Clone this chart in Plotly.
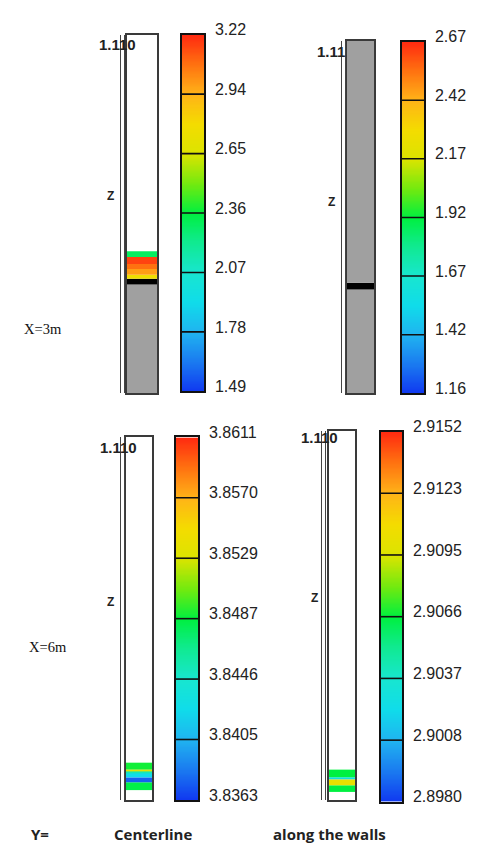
import numpy as np
import plotly.graph_objects as go

# ---------------- data ----------------
# colour-bar tick labels (top -> bottom as printed)
tl_ticks = ["3.22", "2.94", "2.65", "2.36", "2.07", "1.78", "1.49"]
tr_ticks = ["2.67", "2.42", "2.17", "1.92", "1.67", "1.42", "1.16"]
bl_ticks = ["3.8611", "3.8570", "3.8529", "3.8487", "3.8446", "3.8405", "3.8363"]
br_ticks = ["2.9152", "2.9123", "2.9095", "2.9066", "2.9037", "2.9008", "2.8980"]

z_max = 1.11  # column height

# column profiles: segment bottoms, tops (z) and value ("below" = grey, "contour" = black)
tl_bottom = [0.0, 0.337, 0.355, 0.367, 0.385, 0.400, 0.4216]
tl_top = [0.337, 0.355, 0.367, 0.385, 0.400, 0.4216, 0.440]
tl_value = ["below", "contour", 2.75, 2.98, 3.08, 3.17, 2.30]

tr_bottom = [0.0, 0.327, 0.348]
tr_top = [0.327, 0.348, 1.11]
tr_value = ["below", "contour", "below"]

bl_bottom = [0.030, 0.054, 0.069, 0.084, 0.090, 0.093]
bl_top = [0.054, 0.069, 0.084, 0.090, 0.093, 0.114]
bl_value = [3.8485, 3.8375, 3.8425, 3.8455, 3.8535, 3.8490]

br_bottom = [0.024, 0.044, 0.062, 0.068]
br_top = [0.044, 0.062, 0.068, 0.091]
br_value = [2.9066, 2.9102, 2.9025, 2.9066]

row_labels = ["X=3m", "X=6m"]
col_labels = ["Y=", "Centerline", "along the walls"]

# ---------------- style ----------------
W, H = 477, 856
OFF = 8                      # page body margin on every side
FW, FH = W - 2 * OFF, H - 2 * OFF
cs = [
    [0.0, "#1038f0"], [0.08, "#1a78f0"], [0.1667, "#20b4f0"], [0.25, "#10dcea"],
    [0.3333, "#18e6d0"], [0.42, "#10ea90"], [0.5, "#00f040"], [0.58, "#70ea10"],
    [0.6667, "#dce400"], [0.75, "#f4dc00"], [0.8333, "#ffb418"], [0.92, "#ff7010"],
    [1.0, "#ff2a10"],
]
GREY = "#a0a0a0"


def hex2rgb(h):
    h = h.lstrip("#")
    return np.array([int(h[i:i + 2], 16) for i in (0, 2, 4)], float)


def sample(t):
    t = min(max(t, 0.0), 1.0)
    for (a, ca), (b, cb) in zip(cs[:-1], cs[1:]):
        if a <= t <= b:
            f = (t - a) / (b - a) if b > a else 0
            c = hex2rgb(ca) * (1 - f) + hex2rgb(cb) * f
            return "rgb(%d,%d,%d)" % tuple(c.round())
    return cs[-1][1]


def px(x):
    return (x - OFF) / FW


def py(y):
    return 1 - (y - OFF) / FH


def xd(a, b):
    return [px(a), px(b)]


def yd(top, bottom):
    return [py(bottom), py(top)]


panels = [
    dict(col=(127, 157, 22, 388), bar=(182, 204, 22, 386), ax=(120.5, 123.5),
         ticks=tl_ticks, seg=(tl_bottom, tl_top, tl_value)),
    dict(col=(347, 374, 28, 388), bar=(402, 424, 29, 388), ax=(341.5, 344.5),
         ticks=tr_ticks, seg=(tr_bottom, tr_top, tr_value)),
    dict(col=(126, 152, 433, 803), bar=(176, 198, 433, 803), ax=(120.5, 123.5),
         ticks=bl_ticks, seg=(bl_bottom, bl_top, bl_value)),
    dict(col=(329, 355, 426, 803), bar=(381, 402, 427, 805), ax=(321.5, 324.5),
         ticks=br_ticks, seg=(br_bottom, br_top, br_value)),
]

fig = go.Figure()
layout = {}
tickfont = dict(family="Liberation Sans, Arial", size=16, color="#222222")

for i, p in enumerate(panels):
    ci, bi, ai = i + 1, i + 5, i + 9
    vals = [float(t) for t in p["ticks"]]
    vmin, vmax = min(vals), max(vals)
    # ---- column (bars placed by base) ----
    bot, top, val = p["seg"]
    colors = []
    for v in val:
        if v == "below":
            colors.append(GREY)
        elif v == "contour":
            colors.append("#000000")
        else:
            colors.append(sample((v - vmin) / (vmax - vmin)))
    fig.add_trace(go.Bar(
        x=[0] * len(bot), base=bot, y=[t - b for b, t in zip(bot, top)],
        width=1, marker=dict(color=colors, line=dict(width=0)),
        xaxis="x%d" % ci, yaxis="y%d" % ci, showlegend=False, hoverinfo="skip"))
    x0, x1, yt, yb = p["col"]
    layout["xaxis%d" % ci] = dict(domain=xd(x0, x1), anchor="y%d" % ci, range=[-0.5, 0.5],
                                  showline=True, mirror=True, linecolor="#3a3a3a", linewidth=1.5,
                                  showticklabels=False, ticks="", showgrid=False, zeroline=False,
                                  fixedrange=True)
    layout["yaxis%d" % ci] = dict(domain=yd(yt, yb), anchor="x%d" % ci, range=[0, z_max],
                                  showline=True, mirror=True, linecolor="#3a3a3a", linewidth=1.5,
                                  showticklabels=False, ticks="", showgrid=False, zeroline=False)
    # ---- colour bar (contour with heatmap colouring) ----
    yy = np.linspace(vmin, vmax, 300)
    step = (vmax - vmin) / (len(vals) - 1)
    fig.add_trace(go.Contour(
        x=[0, 1], y=yy, z=[[v, v] for v in yy], colorscale=cs, zmin=vmin, zmax=vmax,
        contours=dict(coloring="heatmap", start=vmin + step, end=vmax - step * 0.5, size=step),
        line=dict(color="#111111", width=1.6), showscale=False,
        xaxis="x%d" % bi, yaxis="y%d" % bi, hoverinfo="skip"))
    bx0, bx1, byt, byb = p["bar"]
    tickpos = list(np.linspace(vmin, vmax, len(vals)))[::-1]
    layout["xaxis%d" % bi] = dict(domain=xd(bx0, bx1), anchor="y%d" % bi, range=[0, 1],
                                  showline=True, mirror=True, linecolor="#111111", linewidth=1.5,
                                  showticklabels=False, ticks="", showgrid=False, zeroline=False)
    layout["yaxis%d" % bi] = dict(domain=yd(byt, byb), anchor="x%d" % bi, range=[vmin, vmax],
                                  side="right", tickvals=tickpos, ticktext=p["ticks"],
                                  tickfont=tickfont, ticks="", ticklabelstandoff=6,
                                  ticklabelshift=-5,
                                  showline=True, mirror=True, linecolor="#111111", linewidth=1.5,
                                  showgrid=False, zeroline=False)
    # ---- outer double axis line ----
    fig.add_trace(go.Scatter(x=[None], y=[None], xaxis="x%d" % ai, yaxis="y%d" % ai,
                             showlegend=False, hoverinfo="skip"))
    a0, a1 = p["ax"]
    layout["xaxis%d" % ai] = dict(domain=xd(a0, a1), anchor="y%d" % ai, visible=False)
    layout["yaxis%d" % ai] = dict(domain=yd(yt, yb), anchor="x%d" % ai, range=[0, z_max],
                                  showline=True, mirror=True, linecolor="#444444", linewidth=1,
                                  showticklabels=False, ticks="", showgrid=False, zeroline=False)

ann = []
lab = dict(family="Liberation Sans, Arial", size=15, color="#222222")
for txt, x, y in [("1.110", 117, 32), ("1.11", 331, 39), ("1.110", 118, 443), ("1.110", 319, 433)]:
    ann.append(dict(text="<b>%s</b>" % txt, x=px(x), y=py(y), xref="paper", yref="paper",
                    showarrow=False, font=lab, xanchor="center", yanchor="middle"))
for x, y in [(110, 187), (331, 193), (110, 601), (314, 597)]:
    ann.append(dict(text="<b>Z</b>", x=px(x), y=py(y), xref="paper", yref="paper",
                    showarrow=False, font=dict(family="Liberation Sans, Arial", size=12, color="#222"),
                    xanchor="center", yanchor="middle"))
for txt, x, y in zip(row_labels, [43, 48], [322, 647]):
    ann.append(dict(text=txt, x=px(x), y=py(y), xref="paper", yref="paper", showarrow=False,
                    font=dict(family="Liberation Serif, Times New Roman", size=14.5, color="#111"),
                    xanchor="center", yanchor="middle"))
for txt, x in zip(col_labels, [40, 153, 329]):
    ann.append(dict(text="<b>%s</b>" % txt, x=px(x), y=py(838), xref="paper", yref="paper",
                    showarrow=False, font=dict(family="Open Sans", size=15, color="#222"),
                    xanchor="center", yanchor="middle"))

fig.update_layout(width=FW, height=FH, margin=dict(l=0, r=0, t=0, b=0),
                  paper_bgcolor="white", plot_bgcolor="white", barmode="overlay",
                  showlegend=False, annotations=ann, **layout)
fig.write_html("out.html")
